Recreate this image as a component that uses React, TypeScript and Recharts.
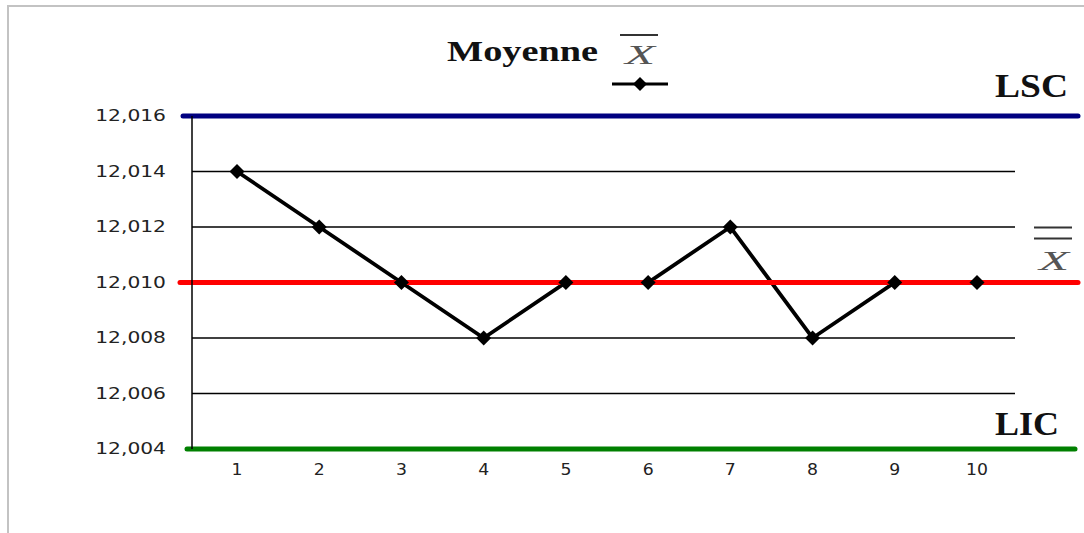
import React from 'react';
import { ComposedChart, Line, XAxis, YAxis, CartesianGrid, ReferenceLine } from 'recharts';

const samples = ['1', '2', '3', '4', '5', '6', '7', '8', '9', '10'];
const means = [12.014, 12.012, 12.01, 12.008, 12.01, 12.01, 12.012, 12.008, 12.01, 12.01];
const yTicks = [12.004, 12.006, 12.008, 12.01, 12.012, 12.014, 12.016];
const lsc = 12.016;
const centre = 12.01;
const lic = 12.004;

const data = samples.map((s, i) => ({ sample: s, mean: means[i] }));

const fmt = (v: number) => v.toFixed(3).replace('.', ',');

const YTick = (props: any) => {
  const { y, payload } = props;
  return (
    <g transform={`translate(166, ${y})`}>
      <text
        transform="scale(1.35,1)"
        textAnchor="end"
        dy="0.36em"
        fontFamily="DejaVu Sans"
        fontSize={15}
        fill="#222"
      >
        {fmt(payload.value)}
      </text>
    </g>
  );
};

const XTick = (props: any) => {
  const { x, y, payload } = props;
  return (
    <g transform={`translate(${x}, ${y + 13})`}>
      <text transform="scale(1.15,1)" textAnchor="middle" dy="0.36em" fontFamily="DejaVu Sans" fontSize={15} fill="#222">
        {payload.value}
      </text>
    </g>
  );
};

const Diamond = (props: any) => {
  const { cx, cy, index } = props;
  if (cx == null || cy == null) return <g key={`d-${index}`} />;
  const r = 7.5;
  return (
    <path
      key={`d-${index}`}
      d={`M${cx},${cy - r} L${cx + r},${cy} L${cx},${cy + r} L${cx - r},${cy} Z`}
      fill="#000"
    />
  );
};

// stretch a horizontal reference line past the plot edges like the original
const longLine = (left: number, right: number) => (p: any) => (
  <line
    x1={p.x1 - left}
    x2={p.x2 + right}
    y1={p.y1}
    y2={p.y2}
    stroke={p.stroke}
    strokeWidth={p.strokeWidth}
    strokeLinecap="round"
  />
);

const serif = '"Liberation Serif", "Times New Roman", serif';

const XBar = ({ x, baseline, bars }: { x: number; baseline: number; bars: number[] }) => (
  <g>
    {bars.map((b, i) => (
      <line key={i} x1={x - 3} x2={x + 35} y1={b} y2={b} stroke="#333" strokeWidth={2} />
    ))}
    <text x={x + 2} y={baseline} fontFamily={serif} fontStyle="italic" fontSize={27} fill="#555" textLength={30} lengthAdjust="spacingAndGlyphs">
      X
    </text>
  </g>
);

export default function App() {
  return (
    <div style={{ position: 'absolute', left: 0, top: 0, width: 1084, height: 533, overflow: 'hidden', background: '#fff' }}>
      <div
        style={{
          position: 'absolute',
          left: 7,
          top: 5,
          width: 1200,
          height: 700,
          borderLeft: '2px solid #c3c3c3',
          borderTop: '2px solid #c3c3c3',
        }}
      />
      <svg width={1084} height={533} style={{ position: 'absolute', left: 0, top: 0 }}>
        <text x={447} y={61} fontFamily={serif} fontWeight="bold" fontSize={30} fill="#111" textLength={151} lengthAdjust="spacingAndGlyphs">
          Moyenne
        </text>
        <XBar x={623} baseline={64} bars={[35]} />
        <line x1={612} x2={668} y1={84} y2={84} stroke="#000" strokeWidth={3} />
        <path d="M640,77 L647,84 L640,91 L633,84 Z" fill="#000" />
      </svg>
      <div style={{ position: 'absolute', left: 0, top: 0 }}>
        <ComposedChart
          width={1084}
          height={533}
          data={data}
          margin={{ top: 116, right: 69, bottom: 54, left: 0 }}
        >
          <CartesianGrid vertical={false} stroke="#000" strokeWidth={1.3} />
          <XAxis
            dataKey="sample"
            height={30}
            axisLine={false}
            tickLine={false}
            padding={{ left: 45, right: 38 }}
            tick={<XTick />}
            interval={0}
          />
          <YAxis
            width={192}
            domain={[lic, lsc]}
            ticks={yTicks}
            axisLine={{ stroke: '#000', strokeWidth: 1.5 }}
            tickLine={false}
            tick={<YTick />}
            interval={0}
          />
          <Line
            dataKey="mean"
            stroke="#000"
            strokeWidth={3.8}
            dot={false}
            activeDot={false}
            isAnimationActive={false}
          />
          <ReferenceLine
            y={lsc}
            stroke="#000080"
            strokeWidth={5}
            shape={longLine(9, 63)}
            label={(p: any) => (
              <text x={995} y={p.viewBox.y - 19} fontFamily={serif} fontWeight="bold" fontSize={34} fill="#111" textLength={73} lengthAdjust="spacingAndGlyphs">
                LSC
              </text>
            )}
          />
          <ReferenceLine
            y={centre}
            stroke="#ff0000"
            strokeWidth={5}
            shape={longLine(12, 63)}
            label={(p: any) => (
              <XBar x={1037} baseline={p.viewBox.y - 13} bars={[p.viewBox.y - 55, p.viewBox.y - 44]} />
            )}
          />
          <ReferenceLine
            y={lic}
            stroke="#008000"
            strokeWidth={5}
            shape={longLine(5, 60)}
            label={(p: any) => (
              <text x={995} y={p.viewBox.y - 14} fontFamily={serif} fontWeight="bold" fontSize={34} fill="#111" textLength={64} lengthAdjust="spacingAndGlyphs">
                LIC
              </text>
            )}
          />
          <Line
            dataKey="mean"
            stroke="none"
            dot={<Diamond />}
            activeDot={false}
            legendType="none"
            isAnimationActive={false}
          />
        </ComposedChart>
      </div>
    </div>
  );
}
